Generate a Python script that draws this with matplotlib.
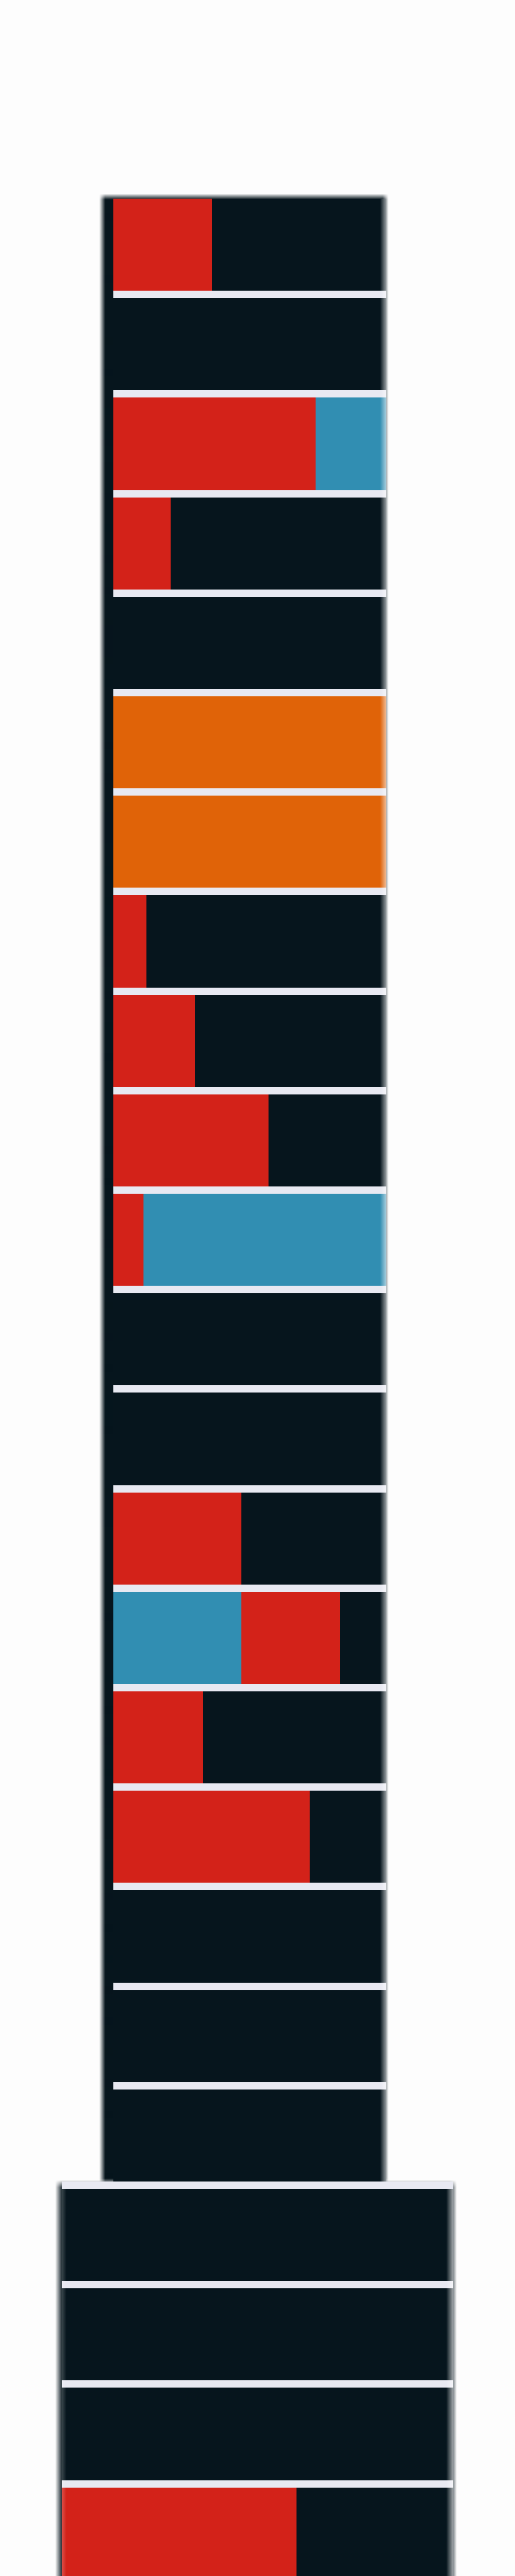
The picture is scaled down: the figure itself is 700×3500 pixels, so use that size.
import numpy as np
import matplotlib
matplotlib.use("Agg")
import matplotlib.pyplot as plt
from matplotlib.colors import to_rgb

## Data : share of each row (percent of the row width), top row first
red_pct    = [36, 0, 74, 21, 0, 0, 0, 12, 30, 57, 11, 0, 0, 47, 36, 33, 72, 0, 0, 0,
              0, 0, 0, 60]
blue_pct   = [0, 0, 26, 0, 0, 0, 0, 0, 0, 0, 89, 0, 0, 0, 47, 0, 0, 0, 0, 0,
              0, 0, 0, 0]
orange_pct = [0, 0, 0, 0, 0, 100, 100, 0, 0, 0, 0, 0, 0, 0, 0, 0, 0, 0, 0, 0,
              0, 0, 0, 0]
blue_first_rows = [14]
n_narrow = 20

## Style
BG     = "#fdfdfd"
DARK   = "#06151d"
RED    = "#d32219"
BLUE   = "#318eb2"
ORANGE = "#e06308"
GAP    = "#e8e9f2"

W, H   = 700, 3500
ROW_PX = 135.2
BAR_PX = 125.3
TOP_PX = 270.0
h_bar  = BAR_PX / ROW_PX


def fig_box(x0, x1, y0, y1):
	## pixel box (y counted from top) -> figure fraction rect
	return [x0 / W, 1 - y1 / H, (x1 - x0) / W, (y1 - y0) / H]


def soft_rect(fig, x0, x1, y0, y1, color, feather, zorder):
	## rectangle with blurred edges, drawn as an RGBA image
	ax = fig.add_axes(fig_box(x0 - feather, x1 + feather, y0 - feather, y1 + feather), zorder=zorder)
	nx = int(round(x1 - x0 + 2 * feather))
	ny = int(round(y1 - y0 + 2 * feather))
	xs = np.arange(nx) + 0.5
	ys = np.arange(ny) + 0.5
	rx = np.clip(np.minimum(xs, nx - xs) / (2 * feather), 0, 1)
	ry = np.clip(np.minimum(ys, ny - ys) / (2 * feather), 0, 1)
	rgba = np.zeros((ny, nx, 4))
	rgba[..., :3] = to_rgb(color)
	rgba[..., 3] = np.outer(ry, rx)
	ax.imshow(rgba, aspect="auto", interpolation="bilinear", extent=(0, 1, 0, 1))
	ax.set_axis_off()


def fade(fig, x0, x1, y0, y1, a0, a1, zorder, color=BG):
	## horizontal fade of a colour over the bars
	ax = fig.add_axes(fig_box(x0, x1, y0, y1), zorder=zorder)
	n = max(int(round(x1 - x0)), 2)
	rgba = np.zeros((1, n, 4))
	rgba[..., :3] = to_rgb(color)
	rgba[0, :, 3] = np.linspace(a0, a1, n)
	ax.imshow(rgba, aspect="auto", interpolation="bilinear", extent=(0, 1, 0, 1))
	ax.set_axis_off()


def draw_rows(ax, rows):
	for k in rows:
		segs = [("red", red_pct[k], RED), ("blue", blue_pct[k], BLUE)]
		if k in blue_first_rows:
			segs = segs[::-1]
		segs.append(("orange", orange_pct[k], ORANGE))
		left = 0
		for name, v, c in segs:
			if v > 0:
				ax.barh(k, v, left=left, height=h_bar, align="edge", color=c, linewidth=0)
				left += v
		if left < 100:
			ax.barh(k, 100 - left, left=left, height=h_bar, align="edge", color=DARK, linewidth=0)
	ax.set_xlim(0, 100)
	ax.set_facecolor(GAP)
	ax.set_xticks([])
	ax.set_yticks([])
	for s in ax.spines.values():
		s.set_visible(False)


fig = plt.figure(figsize=(W / 100, H / 100), dpi=100, facecolor=BG)

y_split = TOP_PX + (n_narrow - 1) * ROW_PX + BAR_PX

## dark frames behind the bars
soft_rect(fig, 139, 524, TOP_PX - 2, y_split, DARK, 4, zorder=1)
soft_rect(fig, 80, 616, y_split + 3, H + 20, DARK, 5, zorder=1)

## narrow block
ax_n = fig.add_axes(fig_box(154, 525, TOP_PX, y_split), zorder=2)
draw_rows(ax_n, range(n_narrow))
ax_n.set_ylim(n_narrow - 1 + h_bar, 0)

## wide block
ax_w = fig.add_axes(fig_box(84, 616, y_split, H), zorder=2)
draw_rows(ax_w, range(n_narrow, len(red_pct)))
ax_w.set_ylim(n_narrow - 1 + h_bar + (H - y_split) / ROW_PX, n_narrow - 1 + h_bar)

## blurred right / left edges
fade(fig, 516, 525, TOP_PX, y_split, 0.0, 0.55, zorder=3)
fade(fig, 606, 616, y_split + 10, H, 0.0, 0.6, zorder=3)
fade(fig, 84, 91, y_split + 10, H, 0.2, 0.0, zorder=3)

fig.savefig("out.png", dpi=100, facecolor=BG)
